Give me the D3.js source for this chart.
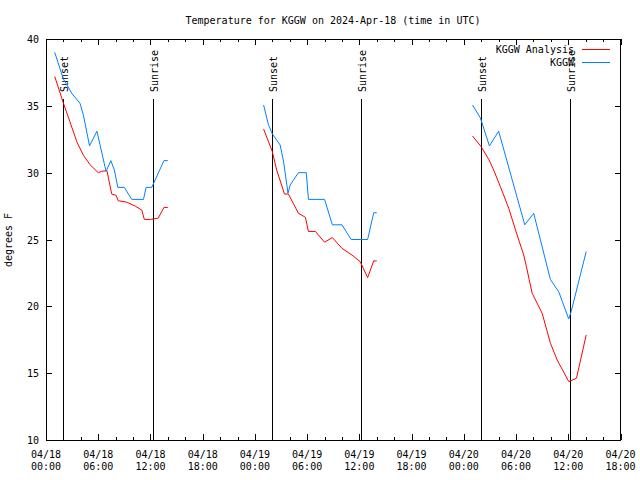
<!DOCTYPE html>
<html><head><meta charset="utf-8">
<script src="https://cdn.jsdelivr.net/npm/d3@7"></script>
<style>
body{margin:0;background:#fff}
text{font-family:"DejaVu Sans Mono",monospace;font-size:10px;fill:#000}
</style>
</head><body>
<svg id="c" width="640" height="480"></svg>
<script>
const title = "Temperature for KGGW on 2024-Apr-18 (time in UTC)";
const yLabel = "degrees F";
const startTime = Date.UTC(2024, 3, 18, 0, 0);
const endTime = Date.UTC(2024, 3, 20, 18, 0);
const seriesNames = ["KGGW Analysis", "KGGW"];
const seriesColors = ["#ff0000", "#0080ff"];
// hours since 04/18 00:00 UTC; null separates nights
const analysisHours = [1.0,2.0,2.75,3.55,4.3,5.05,6.0,6.4,7.0,7.55,8.05,8.3,9.25,10.25,11.0,11.3,12.0,12.9,13.55,14.0,
  null,
  25.0,26.0,26.5,27.4,27.85,29.0,29.8,30.15,30.95,32.0,32.9,34.0,35.15,36.1,36.95,37.65,38.0,
  null,
  49.0,50.0,50.86,51.43,52.2,53.16,54.12,54.88,55.19,55.85,57.0,57.95,58.72,60.06,60.94,62.06];
const analysisTemps = [37.2,35.2,33.8,32.3,31.3,30.6,30.0,30.1,30.15,28.4,28.3,27.9,27.8,27.5,27.2,26.5,26.5,26.6,27.4,27.4,
  null,
  33.27,31.57,30.2,28.4,28.4,26.96,26.66,25.6,25.6,24.8,25.14,24.34,23.84,23.34,22.15,23.4,23.4,
  null,
  32.74,31.94,31.0,30.2,28.95,27.34,25.34,23.84,22.97,20.98,19.48,17.24,15.99,14.37,14.62,17.86];
const obsHours = [1.0,2.0,3.0,3.9,4.3,5.0,5.85,6.2,6.9,7.45,7.85,8.25,9.0,9.85,11.2,11.5,12.15,13.55,14.0,
  null,
  25.0,25.55,26.0,26.9,27.3,27.8,28.05,29.0,29.9,30.15,32.0,32.9,34.0,35.05,36.95,37.65,38.0,
  null,
  49.0,49.9,50.94,52.0,55.0,56.03,57.95,58.9,60.05,60.33,62.06];
const obsTemps = [39.0,37.0,35.9,35.2,34.3,32.0,33.1,32.1,30.1,30.9,30.2,28.9,28.9,28.0,28.0,28.9,28.9,30.9,30.9,
  null,
  35.06,33.6,32.9,32.07,30.8,28.46,29.08,30.0,30.0,28.0,28.0,26.1,26.1,25.0,25.0,27.0,27.0,
  null,
  35.06,34.1,32.0,33.1,26.1,26.96,22.0,21.1,19.06,19.6,24.1];
const sunsetHours = [2.0, 26.03, 50.05];
const sunriseHours = [12.33, 36.28, 60.3];
const yTicks = [10, 15, 20, 25, 30, 35, 40];

const toDate = h => new Date(startTime + h * 3600e3);
const svg = d3.select("#c");
const L = 46, R = 620.5, T = 39, B = 440;
const x = d3.scaleUtc().domain([new Date(startTime), new Date(endTime)]).range([L, R]);
const y = d3.scaleLinear().domain([10, 40]).range([B, T]);

function styleAxis(g){
  g.select(".domain").remove();
  g.attr("font-family", "DejaVu Sans Mono, monospace").attr("font-size", 10);
  g.selectAll("line").attr("stroke", "#000").attr("shape-rendering", "crispEdges");
}
// x minor and major ticks (bottom and top)
svg.append("g").attr("transform", `translate(0,${B})`)
  .call(d3.axisBottom(x).ticks(d3.utcHour.every(2)).tickSize(-3).tickFormat("")).call(styleAxis);
svg.append("g").attr("transform", `translate(0,${B})`)
  .call(d3.axisBottom(x).ticks(d3.utcHour.every(6)).tickSize(-6).tickFormat("")).call(styleAxis);
svg.append("g").attr("transform", `translate(0,${T})`)
  .call(d3.axisTop(x).ticks(d3.utcHour.every(2)).tickSize(-3).tickFormat("")).call(styleAxis);
svg.append("g").attr("transform", `translate(0,${T})`)
  .call(d3.axisTop(x).ticks(d3.utcHour.every(6)).tickSize(-6).tickFormat("")).call(styleAxis);
// x labels
const majorTicks = x.ticks(d3.utcHour.every(6));
const xl = svg.append("g").selectAll("text").data(majorTicks).join("text")
  .attr("text-anchor", "middle");
xl.append("tspan").attr("x", d => x(d)).attr("y", 458).text(d => d3.utcFormat("%m/%d")(d));
xl.append("tspan").attr("x", d => x(d)).attr("y", 470).text(d => d3.utcFormat("%H:%M")(d));

// y axes
svg.append("g").attr("transform", `translate(${L},0)`)
  .call(d3.axisLeft(y).tickValues(yTicks).tickSize(-6).tickPadding(7)).call(styleAxis)
  .selectAll("text").attr("fill", "#000").attr("dy", "0.36em");
svg.append("g").attr("transform", `translate(${R},0)`)
  .call(d3.axisRight(y).tickValues(yTicks).tickSize(-6).tickFormat("")).call(styleAxis);

// frame
svg.append("rect").attr("x", L).attr("y", T).attr("width", R - L).attr("height", B - T)
  .attr("fill", "none").attr("stroke", "#000").attr("shape-rendering", "crispEdges");

// sun lines
function sunMarks(hours, label){
  const g = svg.append("g");
  g.selectAll("line").data(hours).join("line")
    .attr("x1", d => x(toDate(d))).attr("x2", d => x(toDate(d)))
    .attr("y1", 99).attr("y2", B).attr("stroke", "#000").attr("shape-rendering", "crispEdges");
  g.selectAll("text").data(hours).join("text")
    .attr("transform", d => `translate(${x(toDate(d)) + 4.5},92) rotate(-90)`)
    .text(label);
}
sunMarks(sunsetHours, "Sunset");
sunMarks(sunriseHours, "Sunrise");

// data lines
function seriesData(hs, ts){ return hs.map((h, i) => ({h, t: ts[i]})); }
const line = d3.line().defined(d => d.h != null && d.t != null)
  .x(d => x(toDate(d.h))).y(d => y(d.t));
const series = [seriesData(analysisHours, analysisTemps), seriesData(obsHours, obsTemps)];
svg.append("g").selectAll("path").data(series).join("path")
  .attr("d", line).attr("fill", "none").attr("stroke", (d, i) => seriesColors[i])
  .attr("stroke-width", 1);

// legend
const lg = svg.append("g").selectAll("g").data(seriesNames).join("g")
  .attr("transform", (d, i) => `translate(0,${49.5 + i * 13})`);
lg.append("text").attr("x", 574).attr("y", 3.5).attr("text-anchor", "end").text(d => d);
lg.append("line").attr("x1", 582).attr("x2", 610).attr("y1", 0).attr("y2", 0)
  .attr("stroke", (d, i) => seriesColors[i]);

// title and y label
svg.append("text").attr("x", 333).attr("y", 24).attr("text-anchor", "middle").text(title);
svg.append("text").attr("transform", "translate(12,240) rotate(-90)").attr("text-anchor", "middle").text(yLabel);
</script>
</body></html>
